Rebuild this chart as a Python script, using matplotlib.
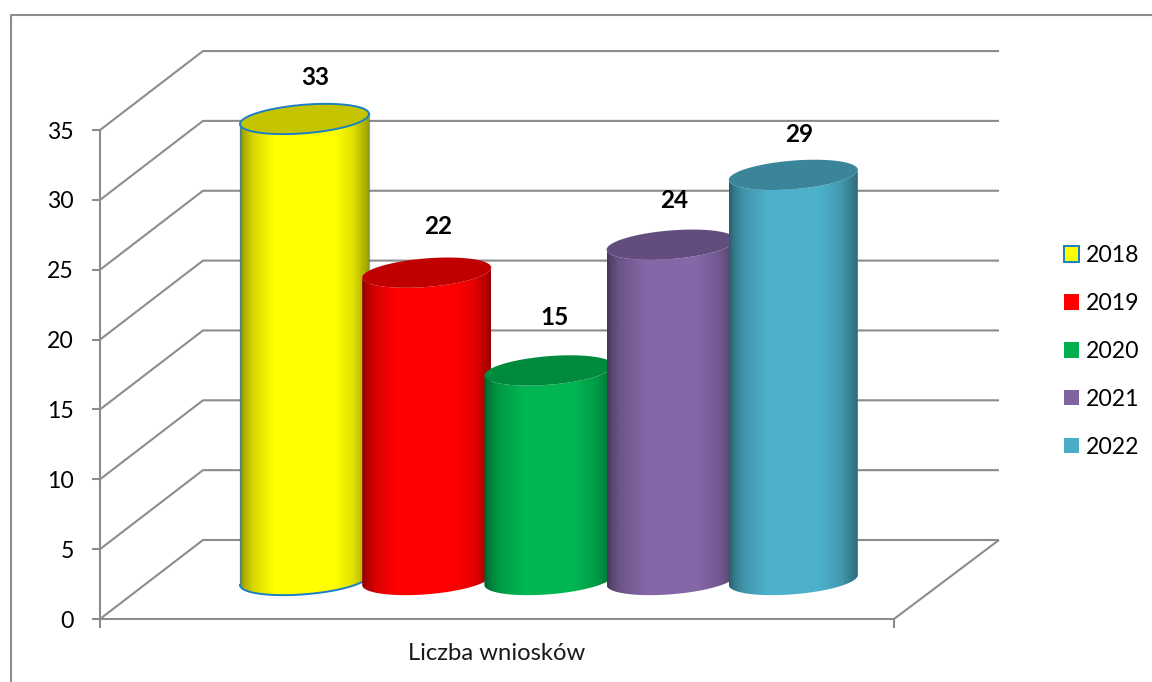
import numpy as np
import matplotlib
matplotlib.use("Agg")
import matplotlib.pyplot as plt
from matplotlib.patches import Polygon, Patch

years = ["2018", "2019", "2020", "2021", "2022"]
values = [33, 22, 15, 24, 29]
ticks = [0, 5, 10, 15, 20, 25, 30, 35]
category = "Liczba wniosków"
colors = ["#FFFF00", "#FF0000", "#00B050", "#8064A2", "#4BACC6"]
top_colors = ["#C4C400", "#C00000", "#008A3E", "#634D7E", "#3A859A"]
edge_colors = ["#1B7FC4", None, None, None, None]

W, H = 1152, 682
PX = 13.97          # pixels per value unit
Y0 = 619            # pixel row of value 0 on the front plane
GRID = "#8C8C8C"
DEPTH_X, DEPTH_Y = 103, 79 / PX
FRONT_L, FRONT_R = 100, 894
BAR_X0, BAR_STEP = 304.5, 122.2
BAR_A, BAR_B, BAR_S = 64.5, 14.3, 5.0
BASE_V = 39 / PX
LABEL_DX = [11, 11, 6, 3, 6]
LABEL_DY = [41, 46, 53, 44, 40]
FS = 16.6

plt.rcParams["font.family"] = ["Lato", "DejaVu Sans"]
fig = plt.figure(figsize=(W / 100, H / 100), dpi=100)
ax = fig.add_axes([0, 0, 1, 1])
ax.set_xlim(0, W)
ax.set_ylim((Y0 - H) / PX, Y0 / PX)
ax.axis("off")

lw = 1.5
line = dict(color=GRID, lw=lw, solid_capstyle="butt", zorder=1)
# chart frame
ax.plot([W, 10.5, 10.5], [(Y0 - 15) / PX, (Y0 - 15) / PX, (Y0 - H) / PX], **line)

# walls
for t in ticks:
    ax.plot([FRONT_L, FRONT_L + DEPTH_X, 999], [t, t + DEPTH_Y, t + DEPTH_Y], **line)
    ax.plot([FRONT_L - 8, FRONT_L], [t, t], **line)
    ax.text(FRONT_L - 26, t, str(t), ha="right", va="center_baseline", fontsize=FS, color="#000000")
ax.plot([FRONT_L, FRONT_L], [-9 / PX, ticks[-1]], **line)
ax.plot([FRONT_L, FRONT_R, 999], [0, 0, DEPTH_Y], **line)
ax.plot([FRONT_R, FRONT_R], [-9 / PX, 0], **line)

ax.text((FRONT_L + FRONT_R) / 2, -35 / PX, category, ha="center", va="center", fontsize=17.2, color="#1a1a1a")

# cylinders
shade_x = [0, 0.03, 0.10, 0.30, 0.70, 0.88, 1]
shade_y = [0.55, 0.68, 0.85, 1.03, 1.03, 0.88, 0.62]
u = np.linspace(0, 1, 128)
shade = np.interp(u, shade_x, shade_y)
t_low = np.linspace(0, np.pi, 80)
t_all = np.linspace(0, 2 * np.pi, 160)


def rim(cx, vc, t):
    return np.column_stack([cx + BAR_A * np.cos(t),
                            vc + (BAR_S * np.cos(t) - BAR_B * np.sin(t)) / PX])


for i, v in enumerate(values):
    z = 3 + i
    cx = BAR_X0 + i * BAR_STEP
    base, top = BASE_V, BASE_V + v
    low = rim(cx, base, t_low)
    body = np.vstack([low, rim(cx, top, t_low[::-1])])
    rgb = np.array(matplotlib.colors.to_rgb(colors[i]))
    img = np.clip(shade[None, :, None] * rgb[None, None, :], 0, 1)
    ext = [cx - BAR_A, cx + BAR_A, base - 25 / PX, top + 25 / PX]
    im = ax.imshow(img, extent=ext, aspect="auto", interpolation="bilinear", zorder=z)
    im.set_clip_path(Polygon(body, closed=True, transform=ax.transData))
    ax.add_patch(Polygon(rim(cx, top, t_all), closed=True, fc=top_colors[i], ec="none", zorder=z + 0.1))
    if edge_colors[i]:
        ax.plot(low[:, 0], low[:, 1], color=edge_colors[i], lw=1.4, zorder=z + 0.2)
        r = rim(cx, top, t_all)
        ax.plot(r[:, 0], r[:, 1], color=edge_colors[i], lw=1.4, zorder=z + 0.2)
        for s in (0, -1):
            ax.plot([low[s, 0]] * 2, [low[s, 1], rim(cx, top, t_low)[s, 1]],
                    color=edge_colors[i], lw=1.0, alpha=0.6, zorder=z + 0.2)
    ax.text(cx + LABEL_DX[i], top + LABEL_DY[i] / PX, str(v), ha="center", va="center",
            fontsize=17.5, fontweight="bold", color="#000000", zorder=20)

ax.set_xlim(0, W)
ax.set_ylim((Y0 - H) / PX, Y0 / PX)

# legend
handles = [Patch(fc=c, ec=(e if e else c), lw=1.4 if e else 0) for c, e in zip(colors, edge_colors)]
leg = ax.legend(handles, years, loc="center left", bbox_to_anchor=(1064 / W, 1 - 351.5 / H),
                frameon=False, fontsize=FS, labelspacing=1.165, handlelength=0.65,
                handleheight=0.65, handletextpad=0.3, borderpad=0, borderaxespad=0)
leg.set_zorder(30)
for txt in leg.get_texts():
    txt.set_color("#000000")

fig.savefig("out.png", dpi=100, facecolor="white")
